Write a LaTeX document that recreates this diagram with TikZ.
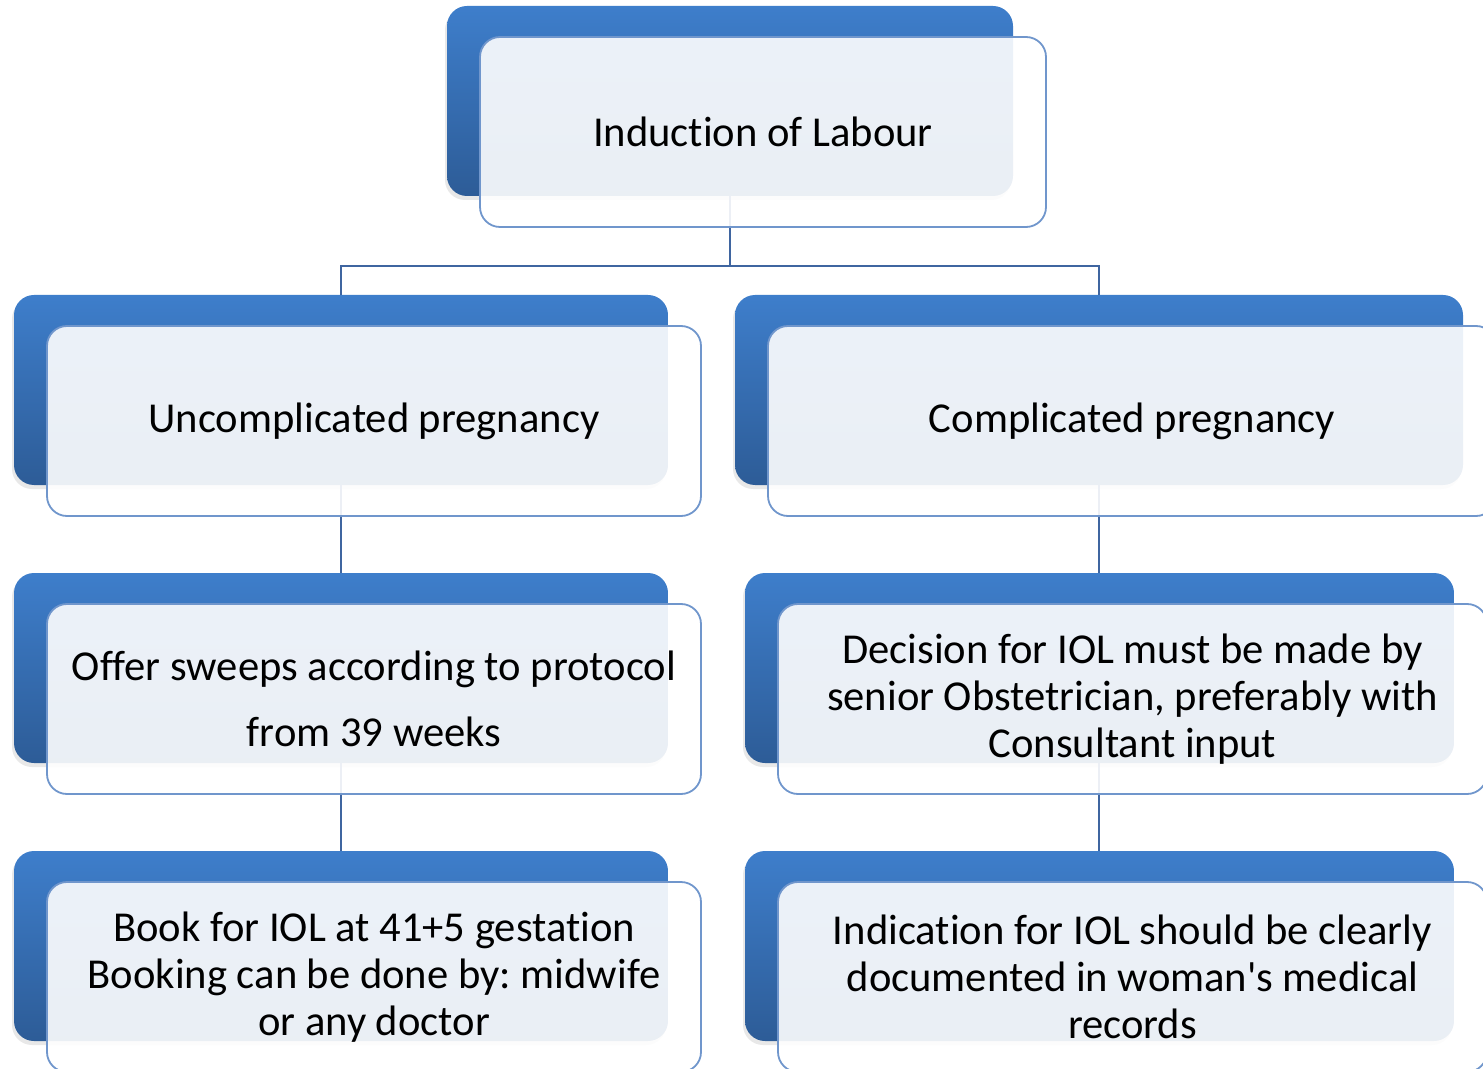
\documentclass[tikz,border=0pt]{standalone}
\usepackage{fontspec}
\setmainfont{Carlito}[Ligatures=NoCommon]
\usetikzlibrary{positioning}
\usetikzlibrary{shadows}
\usepackage{xcolor}
\definecolor{backtop}{HTML}{3E7ECB}
\definecolor{backbot}{HTML}{2D5C97}
\definecolor{frontline}{HTML}{7096CC}
\definecolor{linkline}{HTML}{3F65A0}
\frenchspacing

\begin{document}
\begin{tikzpicture}[x=0.5pt, y=-0.5pt,
		% Style definitions - back card, front card, connector
		back/.style={rounded corners=10pt, top color=backtop, bottom color=backbot, minimum height=95pt, inner sep=0pt,
			drop shadow={shadow xshift=-1pt, shadow yshift=-2pt, opacity=0.18}},
		front/.style={draw=frontline, line width=0.9pt, rounded corners=10pt, fill=white, fill opacity=0.9, text opacity=1,
			minimum height=95pt, inner sep=0pt, align=center, font=\fontsize{21.3}{23.5}\selectfont,
			xshift=16.5pt, yshift=-15.5pt},
		link/.style={draw=linkline, line width=1pt},
		]
		\useasboundingbox (0,0) rectangle (1483,1069);

		% === Back cards ===
		\node[back, minimum width=283pt] (iol-back) at (730,101) {};
		\node[back, minimum width=327pt] (unc-back) at (341,390) {};
		\node[back, minimum width=364pt] (comp-back) at (1099,390) {};
		\node[back, minimum width=327pt] (sweep-back) at (341,668) {};
		\node[back, minimum width=354.5pt] (decide-back) at (1099.5,668) {};
		\node[back, minimum width=327pt] (book-back) at (341,946) {};
		\node[back, minimum width=354.5pt] (indic-back) at (1099.5,946) {};

		% === Connectors (behind the front cards) ===
		\draw[link] (iol-back.south) -- ++(0,70) -| (unc-back.north);
		\draw[link] (iol-back.south) -- ++(0,70) -| (comp-back.north);
		\draw[link] (unc-back.south) -- (sweep-back.north);
		\draw[link] (sweep-back.south) -- (book-back.north);
		\draw[link] (comp-back.south) -- (comp-back.south |- decide-back.north);
		\draw[link] (comp-back.south |- decide-back.south) -- (comp-back.south |- indic-back.north);

		% === Front cards ===
		\node[front, minimum width=283pt, at=(iol-back.center)] (iol) {Induction of Labour};
		\node[front, minimum width=327pt, at=(unc-back.center)] (unc) {Uncomplicated pregnancy};
		\node[front, minimum width=364pt, at=(comp-back.center)] (comp) {Complicated pregnancy};
		\node[front, minimum width=327pt, at=(sweep-back.center)] (sweep) {Offer sweeps according to protocol\\[9.5pt]from 39 weeks};
		\node[front, minimum width=354.5pt, at=(decide-back.center)] (decide) {Decision for IOL must be made by\\senior Obstetrician, preferably with\\Consultant input};
		\node[front, minimum width=327pt, at=(book-back.center)] (book) {Book for IOL at 41+5 gestation\\Booking can be done by: midwife\\or any doctor};
		\node[front, minimum width=354.5pt, at=(indic-back.center)] (indic) {Indication for IOL should be clearly\\documented in woman\textquotesingle s medical\\records};

	\end{tikzpicture}
\end{document}
